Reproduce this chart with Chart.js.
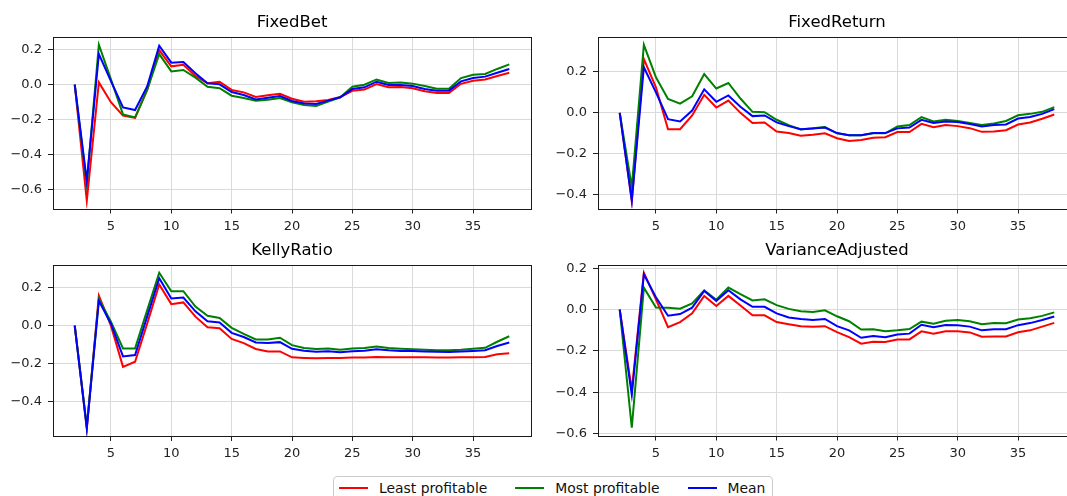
<!DOCTYPE html>
<html>
<head>
<meta charset="utf-8">
<script src="https://cdn.jsdelivr.net/npm/chart.js@4.4.1/dist/chart.umd.min.js"></script>
<style>
  html, body { margin: 0; padding: 0; background: #fff; overflow: hidden; }
  #wrap { position: relative; width: 1067px; height: 496px; overflow: hidden; }
  #wrap canvas { position: absolute; }
  #legend { position: absolute; left: 333px; top: 476px; height: 40px; box-sizing: border-box;
    border: 1px solid #cccccc; border-radius: 4px; background: #fff; display: flex; gap: 28px;
    padding: 3px 7px 0 5px; font-family: 'DejaVu Sans', sans-serif; font-size: 13.9px; color: #111; }
  .item { display: flex; align-items: center; height: 16px; }
  .sw { width: 29px; height: 2px; margin-right: 11px; }
</style>
</head>
<body>
<div id="wrap">
  <canvas id="c1" width="540" height="232" style="left:0;top:0"></canvas>
  <canvas id="c2" width="540" height="232" style="left:545px;top:0"></canvas>
  <canvas id="c3" width="540" height="232" style="left:0;top:232px"></canvas>
  <canvas id="c4" width="540" height="232" style="left:545px;top:232px"></canvas>
  <div id="legend"></div>
</div>
<script>
// шаги по оси X
var steps = [2,3,4,5,6,7,8,9,10,11,12,13,14,15,16,17,18,19,20,21,22,23,24,25,26,27,28,29,30,31,32,33,34,35,36,37,38];
var xTicks = [5,10,15,20,25,30,35];

var seriesNames = ['Least profitable', 'Most profitable', 'Mean'];
var seriesColors = ['#ff0000', '#008000', '#0000ff'];

// FixedBet
var fbLeast = [0,-0.663,0.013,-0.10,-0.177,-0.19,-0.03,0.198,0.105,0.114,0.05,0.008,0.017,-0.03,-0.044,-0.07,-0.06,-0.052,-0.08,-0.097,-0.095,-0.088,-0.07,-0.035,-0.028,0.004,-0.015,-0.013,-0.02,-0.037,-0.047,-0.047,0.005,0.022,0.03,0.05,0.068];
var fbMost = [0,-0.565,0.228,0.03,-0.17,-0.187,-0.03,0.175,0.076,0.084,0.04,-0.012,-0.02,-0.063,-0.076,-0.092,-0.086,-0.076,-0.10,-0.116,-0.122,-0.097,-0.072,-0.012,0.0,0.03,0.01,0.012,0.006,-0.008,-0.023,-0.023,0.038,0.057,0.061,0.09,0.116];
var fbMean = [0,-0.55,0.175,0.02,-0.13,-0.145,-0.01,0.223,0.126,0.13,0.065,0.008,0.002,-0.042,-0.059,-0.084,-0.074,-0.065,-0.093,-0.108,-0.11,-0.091,-0.072,-0.025,-0.015,0.017,-0.002,-0.002,-0.008,-0.025,-0.034,-0.034,0.019,0.038,0.046,0.068,0.09];
var fbTicks = [-0.6,-0.4,-0.2,0.0,0.2];

// FixedReturn
var frLeast = [0,-0.43,0.263,0.125,-0.08,-0.08,-0.013,0.088,0.026,0.06,0.0,-0.05,-0.047,-0.091,-0.099,-0.112,-0.107,-0.10,-0.124,-0.138,-0.133,-0.122,-0.119,-0.094,-0.094,-0.054,-0.07,-0.06,-0.065,-0.075,-0.093,-0.091,-0.085,-0.057,-0.047,-0.029,-0.008];
var frMost = [0,-0.363,0.333,0.174,0.068,0.045,0.081,0.19,0.119,0.146,0.07,0.005,0.003,-0.034,-0.06,-0.081,-0.076,-0.07,-0.1,-0.11,-0.11,-0.1,-0.1,-0.067,-0.06,-0.021,-0.042,-0.034,-0.04,-0.05,-0.06,-0.052,-0.04,-0.012,-0.005,0.005,0.028];
var frMean = [0,-0.43,0.223,0.1,-0.031,-0.042,0.011,0.115,0.054,0.085,0.03,-0.016,-0.013,-0.047,-0.065,-0.08,-0.077,-0.072,-0.099,-0.11,-0.11,-0.099,-0.099,-0.076,-0.072,-0.034,-0.05,-0.042,-0.045,-0.055,-0.067,-0.06,-0.057,-0.028,-0.02,-0.005,0.018];
var frTicks = [-0.4,-0.2,0.0,0.2];

// KellyRatio
var krLeast = [0,-0.54,0.157,0.0,-0.217,-0.19,0.01,0.217,0.113,0.122,0.047,-0.009,-0.014,-0.07,-0.092,-0.123,-0.136,-0.136,-0.167,-0.17,-0.172,-0.17,-0.171,-0.168,-0.168,-0.165,-0.166,-0.166,-0.166,-0.167,-0.168,-0.168,-0.167,-0.166,-0.165,-0.151,-0.146];
var krMost = [0,-0.53,0.14,0.02,-0.12,-0.12,0.08,0.278,0.181,0.181,0.1,0.052,0.04,-0.012,-0.043,-0.073,-0.073,-0.064,-0.103,-0.118,-0.123,-0.12,-0.127,-0.12,-0.118,-0.11,-0.118,-0.122,-0.125,-0.127,-0.13,-0.13,-0.127,-0.122,-0.117,-0.085,-0.056];
var krMean = [0,-0.54,0.13,0.01,-0.162,-0.155,0.047,0.249,0.143,0.148,0.075,0.023,0.016,-0.038,-0.06,-0.089,-0.092,-0.087,-0.122,-0.132,-0.137,-0.135,-0.14,-0.135,-0.132,-0.124,-0.13,-0.133,-0.133,-0.136,-0.138,-0.139,-0.136,-0.133,-0.13,-0.107,-0.089];
var krTicks = [-0.4,-0.2,0.0,0.2];

// VarianceAdjusted
var vaLeast = [0,-0.39,0.179,0.05,-0.085,-0.06,-0.018,0.067,0.018,0.067,0.02,-0.027,-0.027,-0.06,-0.07,-0.08,-0.083,-0.08,-0.109,-0.133,-0.165,-0.155,-0.157,-0.144,-0.144,-0.105,-0.117,-0.104,-0.104,-0.11,-0.131,-0.13,-0.13,-0.109,-0.1,-0.082,-0.064];
var vaMost = [0,-0.572,0.107,0.011,0.01,0.005,0.03,0.094,0.048,0.107,0.075,0.045,0.05,0.022,0.004,-0.008,-0.011,-0.003,-0.032,-0.056,-0.096,-0.095,-0.104,-0.1,-0.094,-0.058,-0.068,-0.054,-0.05,-0.056,-0.07,-0.065,-0.066,-0.048,-0.041,-0.03,-0.013];
var vaMean = [0,-0.412,0.171,0.06,-0.029,-0.021,0.01,0.091,0.043,0.094,0.05,0.014,0.014,-0.018,-0.038,-0.045,-0.05,-0.045,-0.08,-0.1,-0.136,-0.127,-0.133,-0.12,-0.116,-0.073,-0.085,-0.074,-0.075,-0.082,-0.1,-0.095,-0.095,-0.075,-0.065,-0.05,-0.033];
var vaTicks = [-0.6,-0.4,-0.2,0.0,0.2];

var FONT = 'DejaVu Sans';

// рамка вокруг области графика, как spines в matplotlib
var framePlugin = {
    id: 'frame',
    afterDraw: function(chart) {
        var a = chart.chartArea, ctx = chart.ctx;
        ctx.save();
        ctx.strokeStyle = '#1a1a1a';
        ctx.lineWidth = 1;
        ctx.strokeRect(Math.round(a.left) + 0.5, Math.round(a.top) + 0.5,
            Math.round(a.right - a.left), Math.round(a.bottom - a.top));
        ctx.restore();
    }
};

function fmt(v) {
    return v.toFixed(1).replace('-', '\u2212'); // минус как в matplotlib
}

function makeChart(id, title, series, yTicks, titleTop, titleH, axisH) {
    var all = [].concat(series[0], series[1], series[2]);
    var lo = Math.min.apply(null, all), hi = Math.max.apply(null, all);
    var m = (hi - lo) * 0.05;
    var xm = (steps[steps.length - 1] - steps[0]) * 0.05;
    var datasets = series.map(function(s, i) {
        return {
            label: seriesNames[i],
            data: steps.map(function(x, j) { return {x: x, y: s[j]}; }),
            borderColor: seriesColors[i],
            backgroundColor: seriesColors[i],
            borderWidth: 2,
            pointRadius: 0,
            tension: 0,
            fill: false,
            order: 3 - i
        };
    });
    return new Chart(document.getElementById(id).getContext('2d'), {
        type: 'line',
        data: {datasets: datasets},
        plugins: [framePlugin],
        options: {
            responsive: false,
            animation: false,
            devicePixelRatio: 1,
            layout: {padding: {left: 0, top: 0, right: 9, bottom: 0}},
            plugins: {
                legend: {display: false},
                tooltip: {enabled: false},
                title: {
                    display: true, text: title, fullSize: false, color: '#000',
                    font: {family: FONT, size: 16.5, weight: 'normal', lineHeight: 1.2},
                    padding: {top: titleTop, bottom: titleH - titleTop - 19.8}
                }
            },
            scales: {
                x: {
                    type: 'linear', min: steps[0] - xm, max: steps[steps.length - 1] + xm,
                    afterBuildTicks: function(s) { s.ticks = xTicks.map(function(v) { return {value: v}; }); },
                    afterFit: function(s) { s.height = axisH; },
                    grid: {color: '#dadada', lineWidth: 1, tickColor: '#222', tickLength: 5, tickWidth: 1},
                    border: {display: false},
                    ticks: {color: '#222', padding: 5, maxRotation: 0, autoSkip: false,
                        font: {family: FONT, size: 13},
                        callback: function(v) { return String(v); }}
                },
                y: {
                    min: lo - m, max: hi + m,
                    afterBuildTicks: function(s) { s.ticks = yTicks.map(function(v) { return {value: v}; }); },
                    afterFit: function(s) { s.width = 53; },
                    grid: {color: '#dadada', lineWidth: 1, tickColor: '#222', tickLength: 5, tickWidth: 1},
                    border: {display: false},
                    ticks: {color: '#222', padding: 6, autoSkip: false,
                        font: {family: FONT, size: 13},
                        callback: function(v) { return fmt(v); }}
                }
            }
        }
    });
}

makeChart('c1', 'FixedBet', [fbLeast, fbMost, fbMean], fbTicks, 12.6, 37, 23.5);
makeChart('c2', 'FixedReturn', [frLeast, frMost, frMean], frTicks, 12.6, 37, 23.5);
makeChart('c3', 'KellyRatio', [krLeast, krMost, krMean], krTicks, 8.8, 33, 28);
makeChart('c4', 'VarianceAdjusted', [vaLeast, vaMost, vaMean], vaTicks, 8.8, 33, 28.5);

// легенда внизу
var legend = document.getElementById('legend');
seriesNames.forEach(function(name, i) {
    var item = document.createElement('div');
    item.className = 'item';
    item.innerHTML = '<span class="sw" style="background:' + seriesColors[i] + '"></span><span>' + name + '</span>';
    legend.appendChild(item);
});
</script>
</body>
</html>
